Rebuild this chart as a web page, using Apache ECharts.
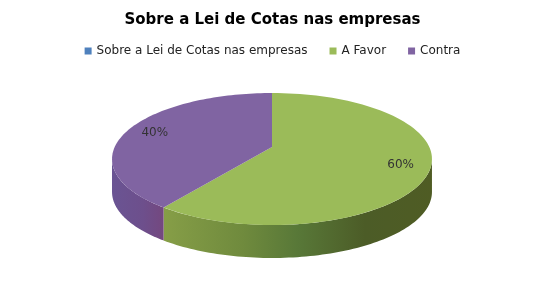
<!DOCTYPE html>
<html>
<head>
<meta charset="utf-8">
<script src="https://cdn.jsdelivr.net/npm/echarts@6/dist/echarts.min.js"></script>
<style>html,body{margin:0;padding:0;background:#fff}#c{width:545px;height:288px}</style>
</head>
<body>
<div id="c"></div>
<script>
const chartTitle = 'Sobre a Lei de Cotas nas empresas';
const categories = ['A Favor', 'Contra'];
const values = [60, 40];
const legendNames = ['Sobre a Lei de Cotas nas empresas', 'A Favor', 'Contra'];
const palette = ['#4F81BD', '#9BBB59', '#8064A2'];

const total = values.reduce((a, b) => a + b, 0);
const cum = [];
let acc = 0;
values.forEach(v => { cum.push([acc, acc + v, v]); acc += v; });

const sideStops = [
  [[0, '#869e47'], [0.3, '#6f8a3d'], [0.5, '#587838'], [0.75, '#4c5c27'], [1, '#4f5c24']],
  [[0, '#6a5493'], [0.6, '#6d4f8c'], [1, '#74487f']]
];

function makeRender(i) {
  return function (params, api) {
    // perspective view of a circular pie
    const cx = 272, cy = 147, k = 0.1818, sx = 157.3, sy = 63.8, depth = 33;
    const proj = (a, f, dy) => {
      const u = f * Math.sin(a), v = -f * Math.cos(a);
      const w = 1 - k * v;
      return [cx + sx * u / w, cy + sy * v / w + (dy || 0)];
    };
    const a0 = api.value(0) / total * 2 * Math.PI;
    const a1 = api.value(1) / total * 2 * Math.PI;
    const children = [];
    const n = 90;
    const ts = Math.acos(-k), te = 2 * Math.PI - ts;
    const f0 = Math.max(a0, ts), f1 = Math.min(a1, te);
    if (f1 > f0) {
      const pts = [];
      for (let j = 0; j <= n; j++) pts.push(proj(f0 + (f1 - f0) * j / n, 1));
      for (let j = n; j >= 0; j--) pts.push(proj(f0 + (f1 - f0) * j / n, 1, depth));
      children.push({
        type: 'polygon', shape: { points: pts }, z2: 1,
        style: { fill: new echarts.graphic.LinearGradient(0, 0, 1, 0, sideStops[i].map(s => ({ offset: s[0], color: s[1] }))) }
      });
    }
    const top = [[cx, cy]];
    for (let j = 0; j <= n; j++) top.push(proj(a0 + (a1 - a0) * j / n, 1));
    children.push({ type: 'polygon', shape: { points: top }, z2: 5, style: { fill: palette[i + 1] } });
    const mid = (a0 + a1) / 2;
    const lp = proj(mid, 0.82);
    children.push({
      type: 'text', z2: 10,
      x: lp[0], y: lp[1] + 1,
      style: {
        text: Math.round(api.value(2) / total * 100) + '%',
        fill: '#333333', font: '12px "DejaVu Sans"', align: 'center', verticalAlign: 'middle'
      }
    });
    return { type: 'group', children };
  };
}

const series = [{
  type: 'custom', name: legendNames[0], coordinateSystem: 'none',
  data: [], renderItem: () => null
}];
categories.forEach((c, i) => {
  series.push({
    type: 'custom', name: c, coordinateSystem: 'none',
    data: [cum[i]], renderItem: makeRender(i), z: 2, silent: true
  });
});

const chart = echarts.init(document.getElementById('c'), null, { renderer: 'canvas' });
chart.setOption({
  animation: false,
  color: palette,
  title: {
    text: chartTitle, left: 'center', top: 8,
    textStyle: { fontFamily: 'DejaVu Sans', fontSize: 15, fontWeight: 'bold', color: '#000' }
  },
  legend: {
    data: legendNames, top: 40, left: 'center',
    icon: 'rect', itemWidth: 7, itemHeight: 7, itemGap: 22,
    textStyle: { fontFamily: 'DejaVu Sans', fontSize: 12, color: '#222' }
  },
  series: series
});
</script>
</body>
</html>
